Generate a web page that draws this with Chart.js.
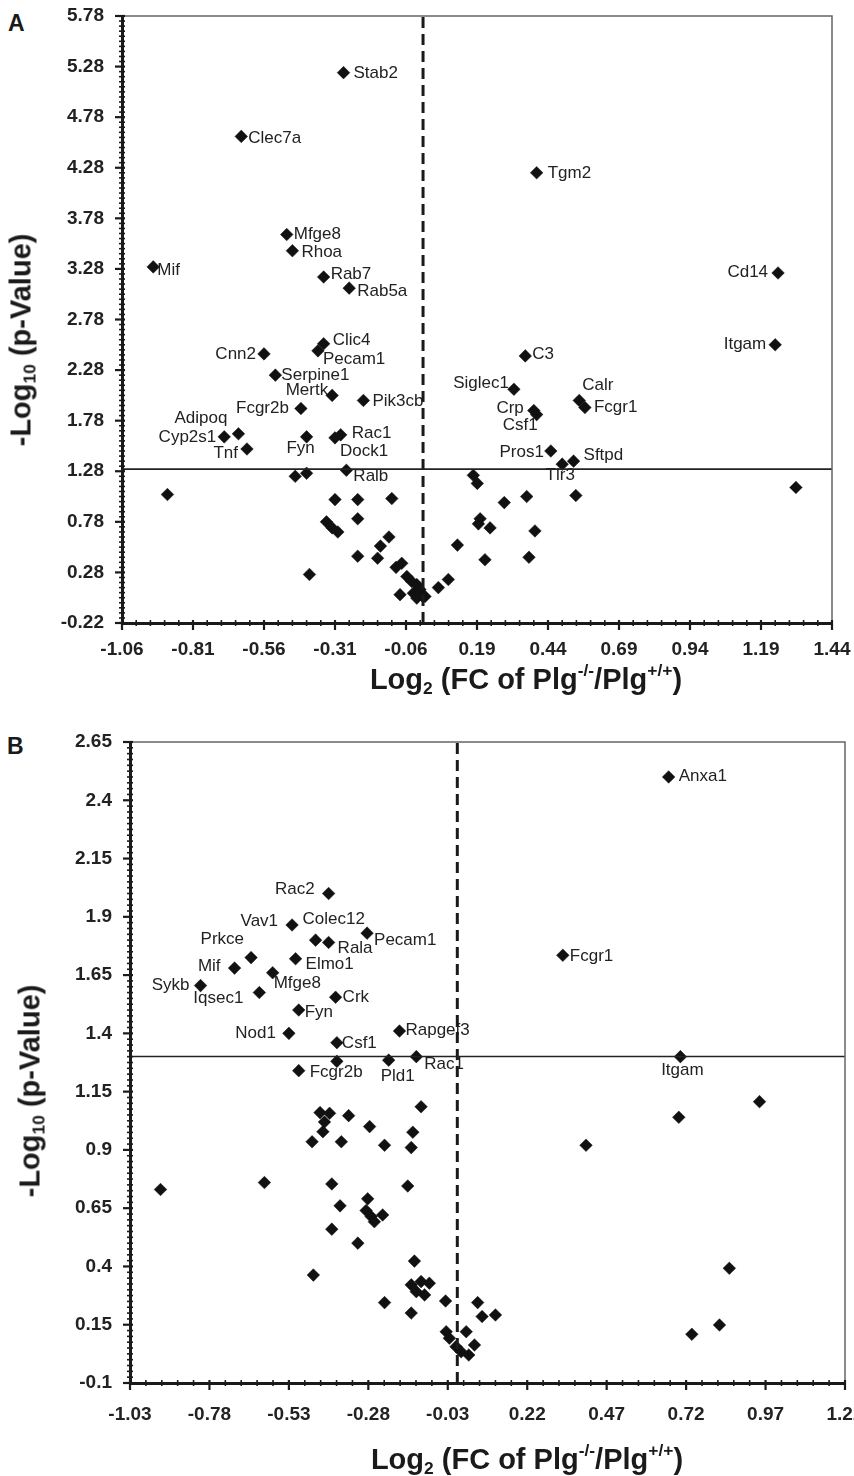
<!DOCTYPE html>
<html>
<head>
<meta charset="utf-8">
<script src="https://cdn.jsdelivr.net/npm/chart.js@4.4.1/dist/chart.umd.min.js"></script>
<style>
  body { margin: 0; background: #fff; width: 854px; height: 1476px; overflow: hidden; position: relative;
         font-family: "Liberation Sans", Arial, sans-serif; color: #1a1a1a; }
  .panel { position: absolute; left: 0; }
  .letter { position: absolute; font-weight: bold; font-size: 23px; line-height: 23px; }
  .xtitle, .ytitle { position: absolute; font-weight: bold; font-size: 29px; line-height: 29px; white-space: nowrap; }
  .xtitle { transform: translateX(-50%); }
  .ytitle { transform: translate(-50%, -50%) rotate(-90deg); }
  sub, sup { font-size: 0.6em; line-height: 0; position: relative; vertical-align: baseline; }
  sub { top: 0.3em; }
  sup { top: -0.75em; }
</style>
</head>
<body>
<div class="letter" style="left:8px; top:12px;">A</div>
<div class="panel" style="top:0px;"><canvas id="chartA" width="854" height="710"></canvas></div>
<div class="ytitle" style="left:21px; top:340px;">-Log<sub>10</sub> (p-Value)</div>
<div class="xtitle" style="left:526px; top:665px;">Log<sub>2</sub> (FC of Plg<sup>-/-</sup>/Plg<sup>+/+</sup>)</div>

<div class="letter" style="left:7px; top:735px;">B</div>
<div class="panel" style="top:720px;"><canvas id="chartB" width="854" height="756"></canvas></div>
<div class="ytitle" style="left:30px; top:1091px;">-Log<sub>10</sub> (p-Value)</div>
<div class="xtitle" style="left:527px; top:1445px;">Log<sub>2</sub> (FC of Plg<sup>-/-</sup>/Plg<sup>+/+</sup>)</div>

<script>
// significance cut-off, -log10(0.05)
const pCutoff = 1.301;

// ---- panel A ----
const xTicksA = [-1.06, -0.81, -0.56, -0.31, -0.06, 0.19, 0.44, 0.69, 0.94, 1.19, 1.44];
const yTicksA = [-0.22, 0.28, 0.78, 1.28, 1.78, 2.28, 2.78, 3.28, 3.78, 4.28, 4.78, 5.28, 5.78];

const genesA = ["Stab2", "Clec7a", "Mfge8", "Rhoa", "Mif", "Rab7", "Rab5a", "Tgm2", "Cd14", "Itgam",
  "C3", "Siglec1", "Calr", "Fcgr1", "Crp", "Csf1", "Pros1", "Sftpd", "Tlr3", "Clic4",
  "Pecam1", "Cnn2", "Serpine1", "Mertk", "Pik3cb", "Fcgr2b", "Adipoq", "Cyp2s1", "Tnf", "Fyn",
  "Rac1", "Dock1", "Ralb"];
const fcA = [-0.28, -0.64, -0.48, -0.46, -0.95, -0.35, -0.26, 0.40, 1.25, 1.24,
  0.36, 0.32, 0.55, 0.57, 0.39, 0.40, 0.45, 0.53, 0.49, -0.35,
  -0.37, -0.56, -0.52, -0.32, -0.21, -0.43, -0.65, -0.70, -0.62, -0.41,
  -0.29, -0.31, -0.27];
const pA = [5.22, 4.59, 3.62, 3.46, 3.30, 3.20, 3.09, 4.23, 3.24, 2.53,
  2.42, 2.09, 1.98, 1.91, 1.88, 1.84, 1.48, 1.38, 1.35, 2.54,
  2.47, 2.44, 2.23, 2.03, 1.98, 1.90, 1.65, 1.62, 1.50, 1.62,
  1.64, 1.61, 1.29];

// genes without a label
const otherFcA = [-0.45, -0.41, -0.90, -0.31, -0.23, -0.11, -0.34, -0.32, -0.30, -0.23,
  -0.12, -0.15, -0.16, -0.23, -0.40, -0.095, -0.075, -0.057, -0.04, -0.022,
  -0.011, -0.034, -0.081, -0.001, -0.022, 0.007, 0.054, 0.089, 0.177, 0.191,
  0.365, 0.538, 0.286, 0.201, 0.195, 0.236, 0.394, 0.121, 0.218, 0.373,
  1.313];
const otherPA = [1.23, 1.26, 1.05, 1.00, 1.00, 1.01, 0.78, 0.72, 0.68, 0.81,
  0.63, 0.54, 0.42, 0.44, 0.26, 0.33, 0.37, 0.24, 0.19, 0.16,
  0.11, 0.075, 0.06, 0.042, 0.026, 0.042, 0.13, 0.21, 1.24, 1.16,
  1.03, 1.04, 0.97, 0.81, 0.76, 0.72, 0.69, 0.55, 0.405, 0.43,
  1.12];

// ---- panel B ----
const xTicksB = [-1.03, -0.78, -0.53, -0.28, -0.03, 0.22, 0.47, 0.72, 0.97, 1.22];
const yTicksB = [-0.1, 0.15, 0.4, 0.65, 0.9, 1.15, 1.4, 1.65, 1.9, 2.15, 2.4, 2.65];

const genesB = ["Anxa1", "Rac2", "Vav1", "Colec12", "Rala", "Pecam1", "Prkce", "Mif", "Elmo1", "Mfge8",
  "Sykb", "Iqsec1", "Crk", "Fyn", "Nod1", "Csf1", "Rapgef3", "Fcgr1", "Pld1", "Rac1",
  "Itgam", "Fcgr2b"];
const fcB = [0.665, -0.405, -0.52, -0.446, -0.405, -0.284, -0.649, -0.701, -0.509, -0.581,
  -0.808, -0.623, -0.383, -0.499, -0.53, -0.379, -0.182, 0.332, -0.216, -0.129,
  0.702, -0.499];
const pB = [2.50, 2.00, 1.865, 1.80, 1.79, 1.83, 1.725, 1.68, 1.72, 1.66,
  1.605, 1.575, 1.555, 1.50, 1.40, 1.36, 1.41, 1.735, 1.285, 1.30,
  1.30, 1.24];

const otherFcB = [-0.379, -0.934, -0.607, -0.432, -0.402, -0.418, -0.423, -0.457, -0.342, -0.365,
  -0.276, -0.229, -0.114, -0.140, -0.145, -0.395, -0.156, -0.369, -0.282, -0.287,
  -0.271, -0.261, -0.235, -0.395, -0.313, -0.135, -0.453, -0.145, -0.114, -0.088,
  -0.129, -0.103, -0.229, -0.145, -0.037, 0.064, 0.078, 0.120, -0.035, -0.025,
  -0.004, 0.012, 0.028, 0.054, 0.036, 0.405, 0.697, 0.951, 0.856, 0.825,
  0.738];
const otherPB = [1.28, 0.73, 0.76, 1.06, 1.057, 1.02, 0.978, 0.935, 1.047, 0.935,
  1.00, 0.92, 1.085, 0.976, 0.91, 0.754, 0.745, 0.66, 0.69, 0.64,
  0.614, 0.592, 0.621, 0.56, 0.50, 0.423, 0.363, 0.321, 0.335, 0.328,
  0.292, 0.278, 0.245, 0.20, 0.252, 0.245, 0.185, 0.192, 0.12, 0.092,
  0.056, 0.034, 0.12, 0.063, 0.02, 0.92, 1.04, 1.107, 0.392, 0.149,
  0.109];

// where each gene name sits relative to its marker: [align, dx, dy]
const placeA = {
  Stab2: ["left", 10, 1], Clec7a: ["left", 7, 2], Mfge8: ["left", 7, 0], Rhoa: ["left", 9, 2],
  Mif: ["left", 4, 3], Rab7: ["left", 7, -3], Rab5a: ["left", 8, 3], Tgm2: ["left", 11, 1],
  Cd14: ["right", -10, -1], Itgam: ["right", -9, 0], C3: ["left", 7, -2], Siglec1: ["right", -5, -6],
  Calr: ["left", 3, -15], Fcgr1: ["left", 9, 0], Crp: ["right", -10, -2], Csf1: ["right", 1, 11],
  Pros1: ["right", -7, 1], Sftpd: ["left", 10, -6], Tlr3: ["center", -2, 11], Clic4: ["left", 9, -3],
  Pecam1: ["left", 5, 8], Cnn2: ["right", -8, 0], Serpine1: ["left", 6, 0], Mertk: ["right", -4, -5],
  Pik3cb: ["left", 9, 1], Fcgr2b: ["right", -12, 0], Adipoq: ["right", -11, -16], Cyp2s1: ["right", -8, 0],
  Tnf: ["right", -9, 4], Fyn: ["center", -6, 11], Rac1: ["left", 11, -2], Dock1: ["left", 5, 13],
  Ralb: ["left", 7, 6]
};
const placeB = {
  Anxa1: ["left", 10, -1], Rac2: ["right", -14, -4], Vav1: ["right", -14, -4], Colec12: ["left", -13, -21],
  Rala: ["left", 9, 6], Pecam1: ["left", 7, 7], Prkce: ["right", -7, -18], Mif: ["right", -14, -2],
  Elmo1: ["left", 10, 6], Mfge8: ["left", 1, 11], Sykb: ["right", -11, 0], Iqsec1: ["right", -16, 6],
  Crk: ["left", 7, 0], Fyn: ["left", 6, 2], Nod1: ["right", -13, 0], Csf1: ["left", 5, 1],
  Rapgef3: ["left", 6, -1], Fcgr1: ["left", 7, 1], Pld1: ["center", 9, 16], Rac1: ["left", 8, 8],
  Itgam: ["center", 2, 14], Fcgr2b: ["left", 11, 2]
};

Chart.defaults.font.family = '"Liberation Sans", Arial, sans-serif';
Chart.defaults.color = "#222";

function toPoints(xs, ys) {
  return xs.map((x, i) => ({ x: x, y: ys[i] }));
}

// thin top/right frame plus major and minor tick marks across the axes
const frameTicks = {
  id: "frameTicks",
  afterDatasetsDraw(chart, args, opts) {
    const { ctx, chartArea: a, scales: { x, y } } = chart;
    ctx.save();
    ctx.strokeStyle = "#666";
    ctx.lineWidth = 1.5;
    ctx.beginPath();
    ctx.moveTo(a.left, a.top);
    ctx.lineTo(a.right, a.top);
    ctx.lineTo(a.right, a.bottom);
    ctx.stroke();

    ctx.strokeStyle = "#1a1a1a";
    const nx = Math.round((x.max - x.min) / opts.minorX);
    for (let i = 0; i <= nx; i++) {
      const px = x.getPixelForValue(x.min + i * opts.minorX);
      const major = i % opts.everyX === 0;
      ctx.lineWidth = major ? 2.2 : 1.6;
      ctx.beginPath();
      ctx.moveTo(px, a.bottom - 3);
      ctx.lineTo(px, a.bottom + (major ? 7 : 3));
      ctx.stroke();
    }
    const ny = Math.round((y.max - y.min) / opts.minorY);
    for (let i = 0; i <= ny; i++) {
      const py = y.getPixelForValue(y.min + i * opts.minorY);
      const major = i % opts.everyY === 0;
      ctx.lineWidth = major ? 2.2 : 1.6;
      ctx.beginPath();
      ctx.moveTo(a.left - (major ? 7 : 3), py);
      ctx.lineTo(a.left + 3, py);
      ctx.stroke();
    }
    ctx.restore();
  }
};

// gene names next to the labelled markers
const geneLabels = {
  id: "geneLabels",
  beforeDatasetsDraw(chart, args, opts) {
    const ctx = chart.ctx;
    const meta = chart.getDatasetMeta(2);
    ctx.save();
    ctx.font = '17px "Liberation Sans", Arial, sans-serif';
    ctx.fillStyle = "#222";
    ctx.textBaseline = "middle";
    meta.data.forEach((pt, i) => {
      const name = opts.names[i];
      const pl = opts.place[name];
      ctx.textAlign = pl[0];
      ctx.fillText(name, pt.x + pl[1], pt.y + pl[2]);
    });
    ctx.restore();
  }
};

const marker = {
  pointStyle: "rectRot",
  pointRadius: 6.3,
  pointHoverRadius: 6.3,
  pointBackgroundColor: "#111",
  pointBorderColor: "#111",
  pointBorderWidth: 0.5
};

function volcano(id, c) {
  const xMin = c.xTicks[0], xMax = c.xTicks[c.xTicks.length - 1];
  const yMin = c.yTicks[0], yMax = c.yTicks[c.yTicks.length - 1];
  return new Chart(document.getElementById(id), {
    type: "scatter",
    data: {
      datasets: [
        { type: "line", data: [{ x: xMin, y: pCutoff }, { x: xMax, y: pCutoff }],
          borderColor: "#222", borderWidth: 1.6, pointRadius: 0, order: 0 },
        { type: "line", data: [{ x: 0, y: yMin }, { x: 0, y: yMax }],
          borderColor: "#1a1a1a", borderWidth: 3, borderDash: [11, 6], pointRadius: 0, order: 0 },
        Object.assign({ data: toPoints(c.fc, c.p), order: 1 }, marker),
        Object.assign({ data: toPoints(c.otherFc, c.otherP), order: 1 }, marker)
      ]
    },
    options: {
      responsive: false,
      animation: false,
      events: [],
      layout: { padding: { top: c.padTop, right: c.padRight, left: 0, bottom: 0 } },
      plugins: {
        legend: { display: false },
        tooltip: { enabled: false },
        frameTicks: { minorX: 0.05, everyX: 5, minorY: c.minorY, everyY: 10 },
        geneLabels: { names: c.genes, place: c.place }
      },
      scales: {
        x: {
          type: "linear", min: xMin, max: xMax,
          afterBuildTicks: s => { s.ticks = c.xTicks.map(v => ({ value: v })); },
          afterFit: s => { s.height = c.xHeight; s.paddingLeft = 0; s.paddingRight = 0; },
          grid: { display: false, drawTicks: false },
          border: { display: true, color: "#1a1a1a", width: 3 },
          ticks: { font: { size: 19, weight: "bold" }, color: "#222", padding: c.xPad,
                   maxRotation: 0, autoSkip: false, callback: v => String(v) }
        },
        y: {
          type: "linear", min: yMin, max: yMax,
          afterBuildTicks: s => { s.ticks = c.yTicks.map(v => ({ value: v })); },
          afterFit: s => { s.width = c.yWidth; s.paddingTop = 0; s.paddingBottom = 0; },
          grid: { display: false, drawTicks: false },
          border: { display: true, color: "#1a1a1a", width: 3 },
          ticks: { font: { size: 19, weight: "bold" }, color: "#222", padding: 18,
                   autoSkip: false, callback: v => String(v) }
        }
      }
    },
    plugins: [frameTicks, geneLabels]
  });
}

volcano("chartA", {
  xTicks: xTicksA, yTicks: yTicksA, genes: genesA, fc: fcA, p: pA,
  otherFc: otherFcA, otherP: otherPA, place: placeA,
  padTop: 16, padRight: 22, yWidth: 122, xHeight: 87, xPad: 15, minorY: 0.05
});
volcano("chartB", {
  xTicks: xTicksB, yTicks: yTicksB, genes: genesB, fc: fcB, p: pB,
  otherFc: otherFcB, otherP: otherPB, place: placeB,
  padTop: 22, padRight: 9, yWidth: 130, xHeight: 93, xPad: 20, minorY: 0.025
});
</script>
</body>
</html>
